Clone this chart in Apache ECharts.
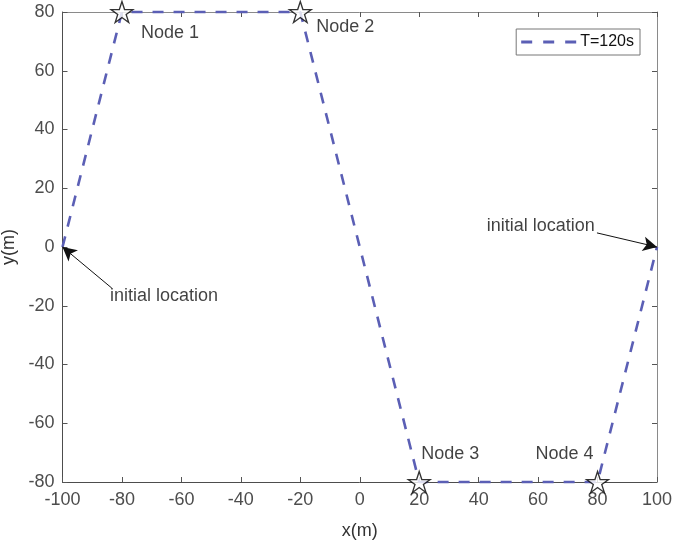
<!DOCTYPE html>
<html><head><meta charset="utf-8">
<script src="https://cdn.jsdelivr.net/npm/echarts@6/dist/echarts.min.js"></script>
<style>html,body{margin:0;padding:0;background:#fff}#c{width:674px;height:544px}</style>
</head><body><div id="c"></div>
<script>
// ---- data ----
var pathX = [-100, -80, -20, 20, 80, 100];
var pathY = [0, 80, 80, -80, -80, 0];
var nodeNames = ['Node 1', 'Node 2', 'Node 3', 'Node 4'];
var nodeX = [-80, -20, 20, 80];
var nodeY = [80, 80, -80, -80];
var xTicks = [-100, -80, -60, -40, -20, 0, 20, 40, 60, 80, 100];
var yTicks = [-80, -60, -40, -20, 0, 20, 40, 60, 80];
var seriesName = 'T=120s';
var annotText = ['initial location', 'initial location'];
var annotTextX = [-84.0, 79.1];
var annotTextY = [-16.7, 7.1];
var arrowFromX = [-83.4, 79.8];
var arrowFromY = [-14.0, 4.8];
var arrowToX = [-100, 100];
var arrowToY = [0, 0];

var FONT = '"Liberation Sans", Arial, Helvetica, sans-serif';
var star = 'path://M100 0 L122.45 69.1 L195.1 69.1 L136.3 111.8 L158.8 180.9 L100 138.2 L41.2 180.9 L63.7 111.8 L4.9 69.1 L77.55 69.1 Z';
var dashIcon = 'path://M0 0h11v3h-11z M22 0h11v3h-11z M44 0h11v3h-11z';
var labelOffsets = [[48, 21], [45, 15], [31, -28], [-33, -28]];

var chart = echarts.init(document.getElementById('c'), null, {renderer: 'canvas'});
var axisCommon = {
  type: 'value', splitLine: {show: false},
  axisTick: {show: true, inside: true, length: 5, lineStyle: {color: '#555'}},
  axisLine: {show: true, onZero: false, lineStyle: {color: '#4d4d4d', width: 1}}
};
var option = {
  animation: false,
  backgroundColor: '#fff',
  textStyle: {fontFamily: FONT},
  grid: {left: 62.5, top: 12, right: 17, bottom: 62, containLabel: false, outerBoundsMode: 'none'},
  legend: {
    show: true, data: [{name: seriesName, icon: dashIcon}], right: 34, top: 29, orient: 'horizontal',
    backgroundColor: '#fff', borderColor: '#777', borderWidth: 1, borderRadius: 0,
    padding: [5, 6, 5, 5], itemWidth: 55, itemHeight: 3, itemGap: 2,
    textStyle: {fontFamily: FONT, fontSize: 16, color: '#111', padding: [0, 0, 0, -1]}
  },
  xAxis: [
    Object.assign({}, axisCommon, {
      position: 'bottom', min: -100, max: 100, interval: 20,
      axisLabel: {fontSize: 18, color: '#4d4d4d', margin: 9, fontFamily: FONT},
      name: 'x(m)', nameLocation: 'middle', nameGap: 40,
      nameTextStyle: {fontSize: 18, color: '#333', fontFamily: FONT}
    }),
    Object.assign({}, axisCommon, {
      position: 'top', min: -100, max: 100, interval: 20,
      axisLabel: {show: false},
      axisLine: {show: true, onZero: false, lineStyle: {color: '#8a8a8a', width: 1}}
    })
  ],
  yAxis: [
    Object.assign({}, axisCommon, {
      position: 'left', min: -80, max: 80, interval: 20,
      axisLabel: {fontSize: 18, color: '#4d4d4d', margin: 8, fontFamily: FONT},
      name: 'y(m)', nameLocation: 'middle', nameGap: 38,
      nameTextStyle: {fontSize: 18, color: '#333', fontFamily: FONT}
    }),
    Object.assign({}, axisCommon, {
      position: 'right', min: -80, max: 80, interval: 20,
      axisLabel: {show: false},
      axisLine: {show: true, onZero: false, lineStyle: {color: '#8a8a8a', width: 1}}
    })
  ],
  series: [
    {
      name: seriesName, type: 'line', xAxisIndex: 0, yAxisIndex: 0,
      data: pathX.map(function (x, i) { return [x, pathY[i]]; }),
      showSymbol: false, symbol: 'none', clip: false,
      lineStyle: {color: '#5b5fb5', width: 2.6, type: [11, 10]},
      itemStyle: {color: '#5b5fb5'}
    },
    {
      name: 'nodes', type: 'scatter', xAxisIndex: 0, yAxisIndex: 0, clip: false,
      symbol: star, symbolSize: [22, 21],
      itemStyle: {color: '#fff', borderColor: '#000', borderWidth: 1.3},
      data: nodeX.map(function (x, i) {
        return {
          value: [x, nodeY[i]], name: nodeNames[i],
          label: {show: true, position: 'inside', offset: labelOffsets[i], formatter: nodeNames[i],
                  fontSize: 18, color: '#111', fontFamily: FONT}
        };
      }),
      z: 5
    },
    {
      name: 'annot', type: 'scatter', xAxisIndex: 0, yAxisIndex: 0, clip: false,
      symbolSize: 0, silent: true,
      data: annotText.map(function (t, i) {
        return {
          value: [annotTextX[i], annotTextY[i]],
          label: {show: true, position: i === 0 ? 'right' : 'left', distance: 0, formatter: t,
                  fontSize: 18, color: '#111', fontFamily: FONT}
        };
      }),
      markLine: {
        silent: true, animation: false,
        symbol: ['none', 'arrow'], symbolSize: [11, 14],
        label: {show: false},
        lineStyle: {color: '#111', width: 1, type: 'solid'},
        data: arrowFromX.map(function (x, i) {
          return [{coord: [x, arrowFromY[i]]}, {coord: [arrowToX[i], arrowToY[i]]}];
        })
      }
    }
  ]
};
chart.setOption(option);
</script>
</body></html>
